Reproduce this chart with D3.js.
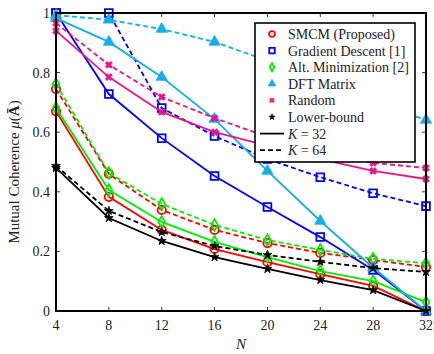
<!DOCTYPE html>
<html>
<head>
<meta charset="utf-8">
<script src="https://cdn.jsdelivr.net/npm/d3@7"></script>
<style>
  body { margin: 0; background: #fff; }
  text { font-family: "Liberation Serif", "DejaVu Serif", serif; fill: #222; }
</style>
</head>
<body>
<script>
// values
const Ns = [4, 8, 12, 16, 20, 24, 28, 32];
const yTicks = [0, 0.2, 0.4, 0.6, 0.8, 1];

const smcm32 = [0.67, 0.383, 0.272, 0.208, 0.164, 0.124, 0.084, 0];
const smcm64 = [0.745, 0.46, 0.339, 0.272, 0.228, 0.195, 0.171, 0.148];
const gd32 = [1.0, 0.728, 0.58, 0.453, 0.349, 0.248, 0.138, 0];
const gd64 = [1.0, 1.0, 0.681, 0.587, 0.51, 0.449, 0.395, 0.352];
const alt32 = [0.681, 0.406, 0.299, 0.232, 0.181, 0.134, 0.1, 0.03];
const alt64 = [0.762, 0.463, 0.359, 0.289, 0.238, 0.205, 0.175, 0.16];
const dft32 = [0.983, 0.903, 0.785, 0.644, 0.47, 0.302, 0.145, 0];
const dft64 = [0.993, 0.977, 0.946, 0.903, 0.84, 0.77, 0.70, 0.641];
const rnd32 = [0.94, 0.785, 0.668, 0.6, 0.555, 0.51, 0.47, 0.443];
const rnd64 = [0.966, 0.826, 0.718, 0.647, 0.585, 0.535, 0.497, 0.48];
const lb32 = [0.48, 0.312, 0.235, 0.181, 0.141, 0.104, 0.07, 0];
const lb64 = [0.487, 0.336, 0.265, 0.218, 0.188, 0.165, 0.144, 0.131];

const series = [
  { name: "SMCM (Proposed)", color: "#ff0000", sym: d3.symbolCircle, size: 55, fill: false, k32: smcm32, k64: smcm64 },
  { name: "Gradient Descent [1]", color: "#0000ff", sym: d3.symbolSquare, size: 60, fill: false, k32: gd32, k64: gd64 },
  { name: "Alt. Minimization [2]", color: "#00ee00", sym: d3.symbolDiamond, size: 38, fill: false, k32: alt32, k64: alt64 },
  { name: "DFT Matrix", color: "#14aee8", sym: d3.symbolTriangle, size: 55, fill: true, k32: dft32, k64: dft64 },
  { name: "Random", color: "#e8168c", sym: d3.symbolCross, size: 30, fill: true, rot: 45, k32: rnd32, k64: rnd64 },
  { name: "Lower-bound", color: "#000000", sym: d3.symbolStar, size: 24, fill: true, k32: lb32, k64: lb64 }
];

const W = 434, H = 354;
const margin = { top: 13, right: 8, bottom: 43, left: 56 };
const svg = d3.select("body").append("svg").attr("width", W).attr("height", H);

const x = d3.scaleLinear().domain([4, 32]).range([margin.left, W - margin.right]);
const y = d3.scaleLinear().domain([0, 1]).range([H - margin.bottom, margin.top]);

const g = svg.append("g");

// tick marks on all four sides, pointing inward
const tickLen = 4;
Ns.forEach(n => {
  g.append("line").attr("x1", x(n)).attr("x2", x(n)).attr("y1", y(0)).attr("y2", y(0) - tickLen).attr("stroke", "#333");
  g.append("line").attr("x1", x(n)).attr("x2", x(n)).attr("y1", y(1)).attr("y2", y(1) + tickLen).attr("stroke", "#333");
  g.append("text").attr("x", x(n)).attr("y", y(0) + 19).attr("text-anchor", "middle").attr("font-size", 14).text(n);
});
yTicks.forEach(v => {
  g.append("line").attr("x1", x(4)).attr("x2", x(4) + tickLen).attr("y1", y(v)).attr("y2", y(v)).attr("stroke", "#333");
  g.append("line").attr("x1", x(32)).attr("x2", x(32) - tickLen).attr("y1", y(v)).attr("y2", y(v)).attr("stroke", "#333");
  g.append("text").attr("x", x(4) - 6).attr("y", y(v) + 5).attr("text-anchor", "end").attr("font-size", 14).text(v);
});

const line = d3.line().x((d, i) => x(Ns[i])).y(d => y(d));

function marker(sel, s) {
  sel.attr("d", d3.symbol().type(s.sym).size(s.size))
    .attr("fill", s.fill ? s.color : "none")
    .attr("stroke", s.color)
    .attr("stroke-width", s.fill ? 0.8 : 1.8);
}

const plot = svg.append("g");
series.forEach(s => {
  [["k64", "5,3"], ["k32", null]].forEach(([key, dash]) => {
    plot.append("path").datum(s[key]).attr("d", line)
      .attr("fill", "none").attr("stroke", s.color).attr("stroke-width", 1.8)
      .attr("stroke-dasharray", dash);
    plot.selectAll(null).data(s[key]).enter().append("path")
      .attr("transform", (d, i) => `translate(${x(Ns[i])},${y(d)}) rotate(${s.rot || 0})`)
      .call(marker, s);
  });
});

// frame
svg.append("rect").attr("x", x(4)).attr("y", y(1)).attr("width", x(32) - x(4)).attr("height", y(0) - y(1))
  .attr("fill", "none").attr("stroke", "#000").attr("stroke-width", 2);

// legend
const lg = svg.append("g").attr("transform", "translate(255,23)");
lg.append("rect").attr("width", 160).attr("height", 139).attr("fill", "#fff").attr("stroke", "#000").attr("stroke-width", 1.6);
const rowH = 16.6;
series.forEach((s, i) => {
  const cy = 11 + i * rowH;
  lg.append("path").attr("transform", `translate(17,${cy}) rotate(${s.rot || 0})`)
    .attr("d", d3.symbol().type(s.sym).size(s.size * 0.5))
    .attr("fill", s.fill ? s.color : "none").attr("stroke", s.color).attr("stroke-width", s.fill ? 0.6 : 1.8);
  lg.append("text").attr("x", 33).attr("y", cy + 5).attr("font-size", 14).text(s.name);
});
[["32", null], ["64", "5,3"]].forEach(([k, dash], j) => {
  const cy = 11 + (6 + j) * rowH;
  lg.append("line").attr("x1", 5).attr("x2", 29).attr("y1", cy).attr("y2", cy)
    .attr("stroke", "#000").attr("stroke-width", 1.8).attr("stroke-dasharray", dash);
  const t = lg.append("text").attr("x", 33).attr("y", cy + 5).attr("font-size", 14);
  t.append("tspan").attr("font-style", "italic").text("K");
  t.append("tspan").text(" = " + k);
});

// axis labels
svg.append("text").attr("x", x(18)).attr("y", 349).attr("text-anchor", "middle")
  .attr("font-size", 15).attr("font-style", "italic").text("N");
const yl = svg.append("text").attr("transform", "translate(19,172) rotate(-90)")
  .attr("text-anchor", "middle").attr("font-size", 15);
yl.append("tspan").text("Mutual Coherence ");
yl.append("tspan").attr("font-style", "italic").text("μ");
yl.append("tspan").text("(");
yl.append("tspan").attr("font-weight", "bold").text("Ā");
yl.append("tspan").text(")");
</script>
</body>
</html>
